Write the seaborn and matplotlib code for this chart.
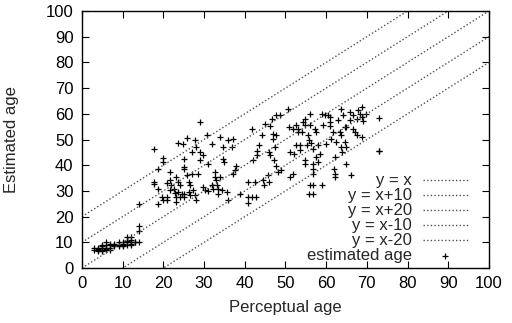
import matplotlib
matplotlib.use("Agg")
import matplotlib.pyplot as plt
import seaborn as sns
import pandas as pd

# ---- data ----
young_x = [3, 3, 4, 4, 4, 5, 5, 5, 5, 6, 6, 6, 6, 7, 7, 7, 8, 8, 8, 9, 9, 9, 10, 10, 10,
           11, 11, 11, 11, 12, 12, 12, 12, 13, 13, 14, 14, 14, 14, 6, 7, 4, 5, 10, 12]
young_y = [7, 8, 7, 8, 7.5, 7, 8, 9, 6.5, 8, 7, 9, 10, 9, 8, 9.5, 9, 8.5, 9.5, 9, 10, 8.5, 9, 10, 9.5,
           9, 10, 12, 10.5, 10, 9, 11, 9.5, 10, 10.3, 10, 14.5, 16.5, 25, 7.5, 7, 6.5, 8.5, 8.5, 12]

main_x = [17.8, 17.6, 17.8, 19.9, 19.9, 18.8, 18.8, 20.9, 19.6, 20.0, 18.8, 21.7, 21.7, 21.9, 21.7,
          20.9, 20.9, 23.0, 22.6, 22.9, 23.1, 23.1, 23.7, 24.8, 25.8, 25.0, 25.0, 25.0, 23.7, 24.0,
          23.7, 24.5, 24.1, 25.0, 25.2, 25.8, 26.2, 26.6, 26.2, 26.6, 27.0, 27.8, 28.0, 27.0, 27.2,
          27.8, 28.0, 28.6, 28.9, 28.9, 28.9, 29.8, 29.8, 30.2, 30.7, 30.9, 30.9, 31.9, 31.9, 32.3,
          32.7, 32.7, 32.9, 33.1, 33.4, 33.5, 33.9, 33.9, 34.3, 34.7, 34.7, 35.0, 35.6, 35.8, 36.0,
          36.8, 37.0, 37.2, 37.6, 37.8, 38.8, 40.9, 40.9, 41.7, 40.9, 41.9, 42.0, 42.5, 42.8, 42.9,
          42.9, 43.6, 44.2, 45.0, 44.6, 44.8, 45.8, 46.0, 46.0, 46.2, 46.2, 46.6, 46.9, 47.0, 47.2,
          47.4, 47.8, 47.8, 47.8, 48.2, 48.6, 48.8, 50.7, 50.9, 51.1, 51.1, 51.8, 51.9, 52.0, 52.7,
          53.1, 53.0, 52.7, 53.6, 53.6, 54.0, 54.4, 54.8, 54.8, 54.8, 54.8, 55.2, 55.6, 55.8, 56.0,
          56.0, 56.0, 55.8, 56.4, 56.8, 56.8, 56.8, 56.8, 56.8, 56.8, 57.2, 57.6, 57.6, 58.0, 58.0,
          58.4, 58.9, 58.9, 59.3, 59.7, 59.9, 60.5, 60.9, 60.9, 60.9, 61.3, 61.7, 61.9, 62.1, 62.1,
          62.1, 62.5, 62.9, 63.3, 63.7, 63.7, 63.7, 64.0, 64.2, 64.6, 65.0, 64.6, 64.8, 65.0, 65.8,
          66.0, 65.8, 66.6, 66.5, 67.1, 67.5, 67.5, 67.9, 68.3, 68.7, 68.9, 69.1, 68.9, 69.7, 73.0,
          73.0, 73.0]
main_y = [46.2, 33.5, 32.8, 42.9, 41.2, 38.7, 30.9, 33.1, 27.6, 26.3, 24.8, 37.4, 34.1, 32.2, 30.2,
          27.6, 26.3, 35.4, 30.9, 29.2, 27.6, 25.7, 48.6, 48.1, 50.7, 42.5, 39.3, 38.7, 33.5, 32.4,
          29.6, 28.9, 27.6, 28.9, 27.6, 36.4, 33.5, 32.2, 29.6, 28.3, 45.1, 49.7, 47.1, 36.7, 30.2,
          28.3, 26.6, 36.7, 56.8, 45.1, 42.2, 43.8, 31.5, 30.2, 51.6, 40.6, 30.0, 48.4, 32.2, 30.9,
          37.4, 35.4, 34.1, 32.2, 30.9, 28.9, 51.0, 35.4, 30.2, 47.1, 42.5, 41.2, 29.6, 26.3, 49.7,
          47.1, 50.1, 36.7, 38.0, 39.9, 28.9, 33.5, 27.6, 27.6, 25.3, 54.2, 41.9, 33.5, 27.6, 45.4,
          44.1, 47.7, 51.6, 55.9, 34.1, 32.2, 36.1, 33.5, 45.1, 43.8, 55.1, 58.1, 52.0, 50.3, 41.9,
          47.1, 59.4, 51.6, 39.9, 37.4, 59.4, 38.0, 62.0, 54.9, 45.1, 35.4, 36.7, 54.2, 44.5, 55.5,
          54.2, 52.9, 47.7, 47.7, 45.8, 52.9, 56.8, 58.1, 55.5, 42.2, 40.6, 47.7, 51.6, 49.9, 60.0,
          55.5, 32.2, 28.9, 48.6, 46.4, 40.6, 38.7, 36.7, 32.4, 28.7, 54.2, 52.9, 43.2, 41.2, 47.7,
          44.5, 60.0, 32.2, 55.5, 59.4, 48.4, 59.4, 58.8, 56.8, 55.1, 50.3, 52.9, 38.7, 36.7, 35.4,
          43.2, 49.0, 57.5, 52.9, 51.6, 62.0, 47.1, 45.1, 59.4, 54.9, 54.9, 49.0, 40.6, 47.1, 57.5,
          36.3, 60.7, 59.4, 54.2, 52.9, 51.6, 58.1, 61.3, 60.0, 58.8, 62.6, 57.3, 51.0, 60.0, 58.5,
          45.5, 45.7]

offsets = [0, 10, 20, -10, -20]
offset_labels = ["y = x", "y = x+10", "y = x+20", "y = x-10", "y = x-20"]
line_x = [0, 100]
x_ticks = [0, 10, 20, 30, 40, 50, 60, 70, 80, 90, 100]
y_ticks = [0, 10, 20, 30, 40, 50, 60, 70, 80, 90, 100]

# ---- style ----
sns.set_style("ticks")
plt.rcParams["font.family"] = ["Liberation Sans", "DejaVu Sans"]
plt.rcParams["font.size"] = 12

fig = plt.figure(figsize=(5.12, 3.23), dpi=100)
ax = fig.add_axes([0.160, 0.170, 0.795, 0.796])

for off, lab in zip(offsets, offset_labels):
    sns.lineplot(x=line_x, y=[v + off for v in line_x], ax=ax, color="#505050",
                 linestyle=(0, (1, 1.6)), linewidth=1.0, label=lab)

pts = pd.DataFrame({"x": young_x + main_x, "y": young_y + main_y})
sns.scatterplot(data=pts, x="x", y="y", ax=ax, marker="+", color="black",
                s=22, linewidth=0.9, label="estimated age")

ax.set_xlim(0, 100)
ax.set_ylim(0, 100)
ax.set_xticks(x_ticks)
ax.set_yticks(y_ticks)
ax.tick_params(direction="in", length=5, width=0.8, top=True, right=True,
               labelsize=12, colors="black", pad=6)
for sp in ax.spines.values():
    sp.set_visible(True)
    sp.set_color("black")
    sp.set_linewidth(1.0)
ax.set_xlabel("Perceptual age", fontsize=12, labelpad=6)
ax.set_ylabel("Estimated age", fontsize=12, labelpad=19)

leg = ax.legend(loc="lower right", bbox_to_anchor=(0.948, 0.018), frameon=False,
                markerfirst=False, handlelength=2.7, handletextpad=0.65,
                labelspacing=0.0, borderpad=0, borderaxespad=0, fontsize=12)

fig.savefig("out.png", dpi=100)
